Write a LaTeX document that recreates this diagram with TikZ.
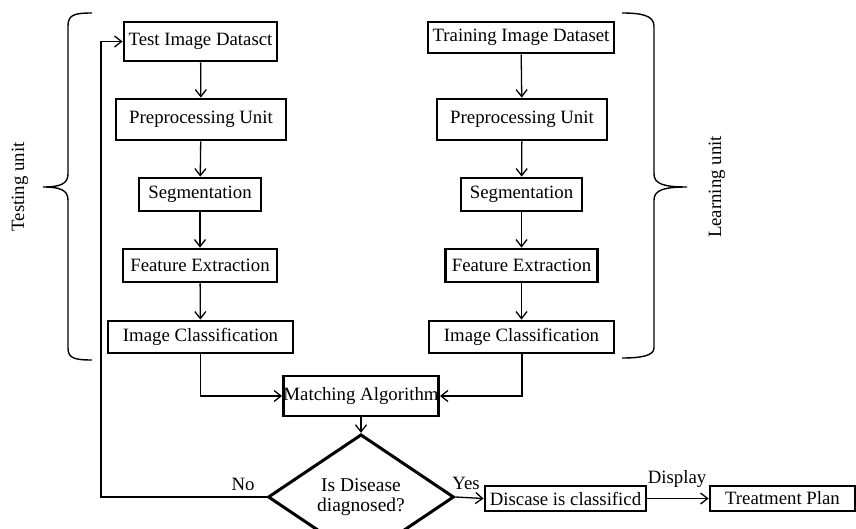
\documentclass[tikz,border=0pt]{standalone}
\usepackage{fontspec}
\setmainfont{Liberation Serif}
\usetikzlibrary{arrows.meta,shapes.geometric}
\begin{document}
\begin{tikzpicture}[x=1pt,y=-1pt,
  font=\fontsize{18.8}{20}\selectfont,
  box/.style={draw,line width=2.8pt,inner sep=0pt,minimum width=#1},
  flow/.style={line width=1.3pt,-{Straight Barb[length=7pt,width=11pt,line width=1.3pt]}},
  bracket/.style={line width=1.4pt},
  lbl/.style={inner sep=1pt}]
\useasboundingbox (0,0) rectangle (856,529);

% testing column
\node[box=153,minimum height=39] (t1) at (200.5,41.5) {Test Image Datasct};
\node[box=170,minimum height=41] (t2) at (201,119.5) {Preprocessing Unit};
\node[box=122,minimum height=33] (t3) at (200,194.5) {Segmentation};
\node[box=154,minimum height=33] (t4) at (200,265.5) {Feature Extraction};
\node[box=185,minimum height=32] (t5) at (200.5,337) {Image Classification};

% learning column
\node[box=186,minimum height=31] (r1) at (521,37.5) {Training Image Dataset};
\node[box=170,minimum height=41] (r2) at (522,119.5) {Preprocessing Unit};
\node[box=121,minimum height=33] (r3) at (521.5,194.5) {Segmentation};
\node[box=152,minimum height=33] (r4) at (521.5,265.5) {Feature Extraction};
\node[box=185,minimum height=32] (r5) at (521.5,337) {Image Classification};

% matching and decision
\node[box=154,minimum height=40] (m) at (361,396) {Matching Algorithm};
\node[draw,diamond,line width=3pt,inner sep=0pt,minimum width=186,minimum height=68,align=center,
  font=\fontsize{19.5}{20.5}\selectfont] (d) at (361,497) {Is Disease\\diagnosed?};
\node[box=161,minimum height=25] (c) at (565.5,498.5) {Discase is classificd};
\node[box=145,minimum height=25] (p) at (782.5,498.5) {Treatment Plan};

% vertical flows
\foreach \a/\b in {t1/t2,t2/t3,t3/t4,t4/t5,r1/r2,r2/r3,r3/r4,r4/r5}
  \draw[flow] (\a) -- (\b);
\draw[flow] (t5.south) |- (m.west);
\draw[flow] (r5.south -| 522,0) |- (m.east);
\draw[flow] (m) -- (d);

% decision branches
\coordinate (back) at (101,497);
\draw[flow] (d.west) -- (back) |- (t1.west);
\node[lbl,anchor=south] (no) at (243,492) {No};
\draw[flow] (d.east) -- (c.west);
\node[lbl,anchor=south] (yes) at (466,491) {Yes};
\draw[flow] (c.east) -- (p.west);
\node[lbl,anchor=south] (disp) at (677,489) {Display};

% group braces
\draw[bracket] (92,13) .. controls (74,13) and (68,15) .. (68,26) -- (68,174)
  .. controls (68,184) and (60,187) .. (43,187)
  .. controls (60,187) and (68,190) .. (68,200) -- (68,348)
  .. controls (68,358) and (74,360) .. (92,360);
\draw[bracket] (622,13) .. controls (640,13) and (654,15) .. (654,26) -- (654,174)
  .. controls (654,184) and (664,187) .. (687,187)
  .. controls (664,187) and (654,190) .. (654,200) -- (654,348)
  .. controls (654,356) and (640,358) .. (622,358);
\node[rotate=90] (tu) at (20,187) {Testing unit};
\node[rotate=90] (lu) at (717,187) {Learning unit};
\end{tikzpicture}
\end{document}
